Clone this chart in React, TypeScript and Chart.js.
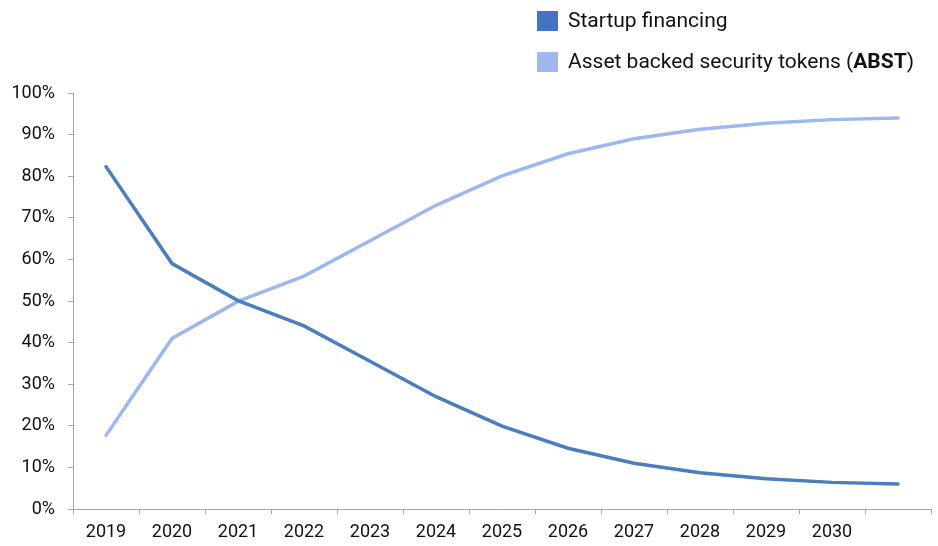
import React, { useEffect, useRef } from "react";
import { Chart, registerables } from "chart.js";

Chart.register(...registerables);

const years = ["2019", "2020", "2021", "2022", "2023", "2024", "2025", "2026", "2027", "2028", "2029", "2030", ""];
const startupFinancing = [82.3, 59.0, 50.1, 44.0, 35.5, 27.0, 19.9, 14.6, 11.0, 8.7, 7.3, 6.4, 6.0];
const abstTokens = [17.7, 41.0, 49.9, 56.0, 64.5, 73.0, 80.1, 85.4, 89.0, 91.3, 92.7, 93.6, 94.0];
const legendItems = [
  { parts: [{ t: "Startup financing", b: false }], color: "#4472c4" },
  {
    parts: [
      { t: "Asset backed security tokens (", b: false },
      { t: "ABST", b: true },
      { t: ")", b: false },
    ],
    color: "#a0b8ee",
  },
];

const FONT = "Roboto, 'Noto Sans', sans-serif";

const legendPlugin = {
  id: "customLegend",
  afterDraw(chart: any) {
    const ctx = chart.ctx;
    ctx.save();
    ctx.textBaseline = "middle";
    legendItems.forEach((item, i) => {
      const boxX = 537;
      const boxY = 11 + i * 41;
      ctx.fillStyle = item.color;
      ctx.fillRect(boxX, boxY, 21, 20);
      let x = 568;
      const y = boxY + 11;
      ctx.fillStyle = "#111111";
      item.parts.forEach((p) => {
        ctx.font = `${p.b ? "bold " : ""}21px ${FONT}`;
        ctx.fillText(p.t, x, y);
        x += ctx.measureText(p.t).width;
      });
    });
    ctx.restore();
  },
};

export default function App() {
  const ref = useRef<HTMLCanvasElement>(null);
  useEffect(() => {
    if (!ref.current) return;
    const chart = new Chart(ref.current, {
      type: "line",
      data: {
        labels: years,
        datasets: [
          {
            label: "Startup financing",
            data: startupFinancing,
            borderColor: "#4a7ebf",
            backgroundColor: "#4472c4",
            borderWidth: 3.5,
            pointRadius: 0,
            tension: 0,
            borderCapStyle: "round",
          },
          {
            label: "Asset backed security tokens (ABST)",
            data: abstTokens,
            borderColor: "#9db8ee",
            backgroundColor: "#a0b8ee",
            borderWidth: 3.5,
            pointRadius: 0,
            tension: 0,
            borderCapStyle: "round",
          },
        ],
      },
      options: {
        animation: false,
        responsive: true,
        maintainAspectRatio: false,
        layout: { padding: { top: 93, right: 7, left: 0, bottom: 0 } },
        plugins: { legend: { display: false }, tooltip: { enabled: false } },
        scales: {
          x: {
            offset: true,
            grid: {
              offset: true,
              drawOnChartArea: false,
              drawTicks: true,
              tickLength: 5,
              color: "#a6a6a6",
            },
            border: { color: "#a6a6a6", width: 1 },
            ticks: {
              color: "#111111",
              font: { family: FONT, size: 18 },
              padding: 8,
              maxRotation: 0,
              autoSkip: false,
            },
            afterFit: (s: any) => {
              s.height = 37;
            },
          },
          y: {
            min: 0,
            max: 100,
            grid: {
              drawOnChartArea: false,
              drawTicks: true,
              tickLength: 5,
              color: "#a6a6a6",
            },
            border: { color: "#a6a6a6", width: 1 },
            ticks: {
              stepSize: 10,
              color: "#111111",
              font: { family: FONT, size: 18 },
              padding: 13,
              callback: (v: any) => `${v}%`,
            },
            afterFit: (s: any) => {
              s.width = 73;
            },
          },
        },
      },
      plugins: [legendPlugin],
    });
    return () => chart.destroy();
  }, []);
  return (
    <div style={{ position: "absolute", left: 0, top: 0, width: 938, height: 546, background: "#fff" }}>
      <canvas ref={ref} />
    </div>
  );
}
